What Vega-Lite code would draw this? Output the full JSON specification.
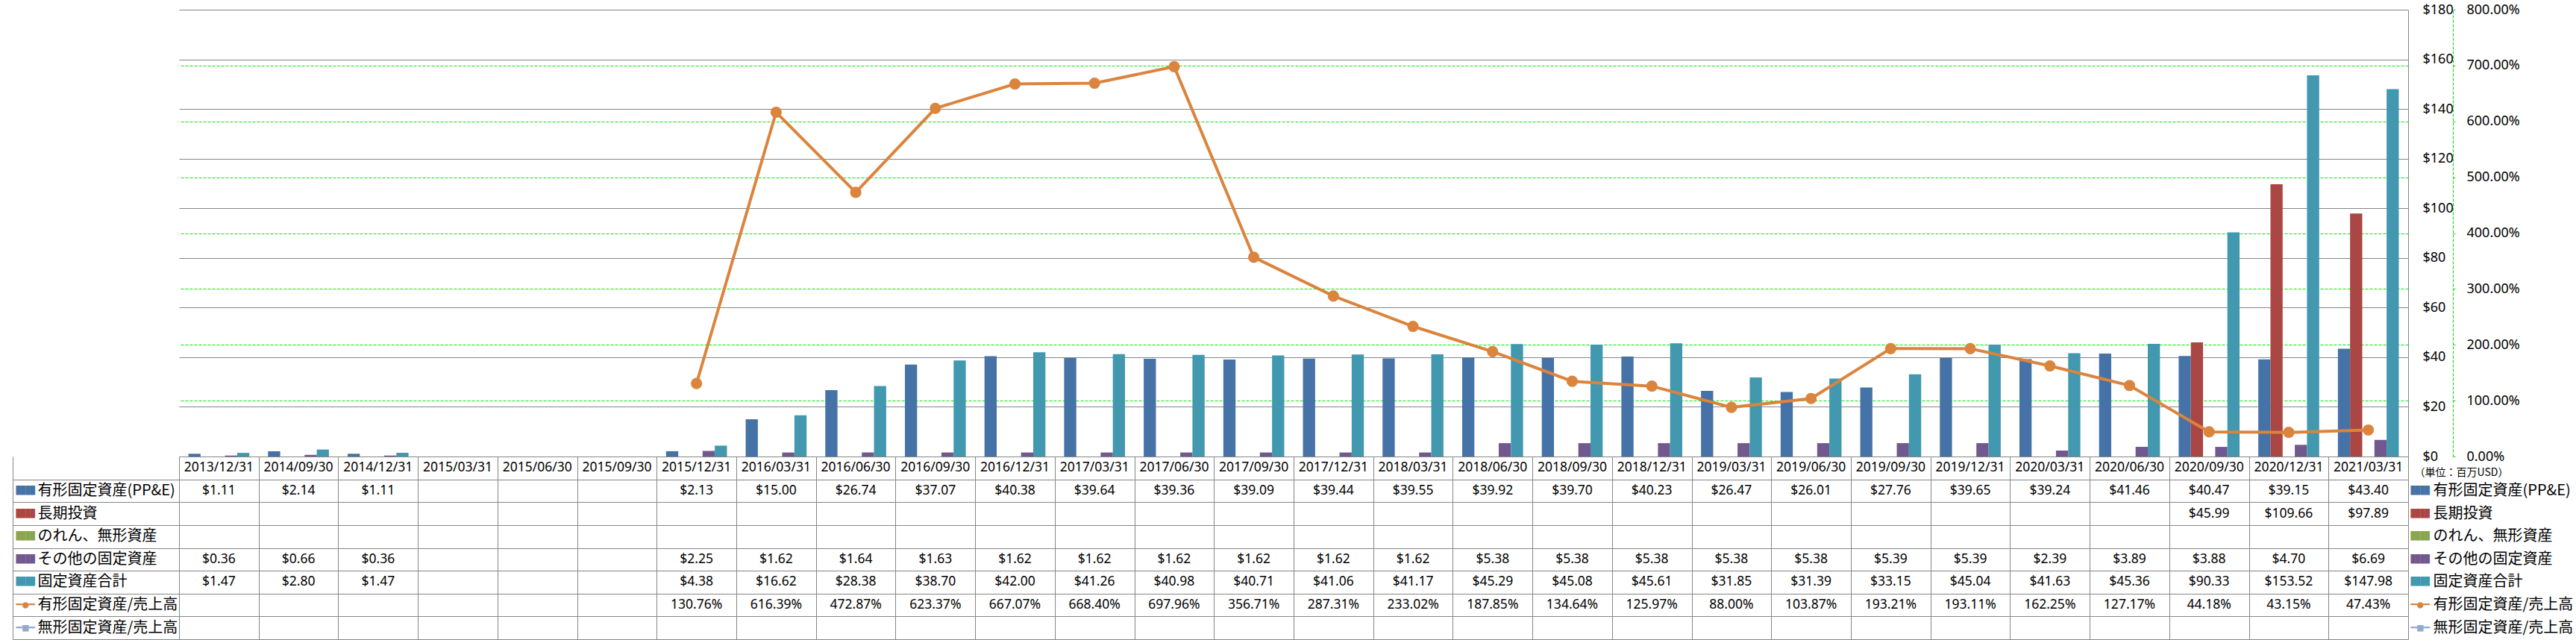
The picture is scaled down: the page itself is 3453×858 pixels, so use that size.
{
  "$schema": "https://vega.github.io/schema/vega-lite/v6.json",
  "background": "white",
  "padding": {"left": 16, "top": 4, "right": 0, "bottom": 0},
  "bounds": "flush",
  "spacing": 0,
  "config": {"font": "Noto Sans"},
  "datasets": {
    "d": [
      {"date": "2013/12/31", "ppe": 1.11, "other": 0.36, "total": 1.47},
      {"date": "2014/09/30", "ppe": 2.14, "other": 0.66, "total": 2.80},
      {"date": "2014/12/31", "ppe": 1.11, "other": 0.36, "total": 1.47},
      {"date": "2015/03/31"},
      {"date": "2015/06/30"},
      {"date": "2015/09/30"},
      {"date": "2015/12/31", "ppe": 2.13, "other": 2.25, "total": 4.38, "ratio": 1.3076},
      {"date": "2016/03/31", "ppe": 15.00, "other": 1.62, "total": 16.62, "ratio": 6.1639},
      {"date": "2016/06/30", "ppe": 26.74, "other": 1.64, "total": 28.38, "ratio": 4.7287},
      {"date": "2016/09/30", "ppe": 37.07, "other": 1.63, "total": 38.70, "ratio": 6.2337},
      {"date": "2016/12/31", "ppe": 40.38, "other": 1.62, "total": 42.00, "ratio": 6.6707},
      {"date": "2017/03/31", "ppe": 39.64, "other": 1.62, "total": 41.26, "ratio": 6.6840},
      {"date": "2017/06/30", "ppe": 39.36, "other": 1.62, "total": 40.98, "ratio": 6.9796},
      {"date": "2017/09/30", "ppe": 39.09, "other": 1.62, "total": 40.71, "ratio": 3.5671},
      {"date": "2017/12/31", "ppe": 39.44, "other": 1.62, "total": 41.06, "ratio": 2.8731},
      {"date": "2018/03/31", "ppe": 39.55, "other": 1.62, "total": 41.17, "ratio": 2.3302},
      {"date": "2018/06/30", "ppe": 39.92, "other": 5.38, "total": 45.29, "ratio": 1.8785},
      {"date": "2018/09/30", "ppe": 39.70, "other": 5.38, "total": 45.08, "ratio": 1.3464},
      {"date": "2018/12/31", "ppe": 40.23, "other": 5.38, "total": 45.61, "ratio": 1.2597},
      {"date": "2019/03/31", "ppe": 26.47, "other": 5.38, "total": 31.85, "ratio": 0.8800},
      {"date": "2019/06/30", "ppe": 26.01, "other": 5.38, "total": 31.39, "ratio": 1.0387},
      {"date": "2019/09/30", "ppe": 27.76, "other": 5.39, "total": 33.15, "ratio": 1.9321},
      {"date": "2019/12/31", "ppe": 39.65, "other": 5.39, "total": 45.04, "ratio": 1.9311},
      {"date": "2020/03/31", "ppe": 39.24, "other": 2.39, "total": 41.63, "ratio": 1.6225},
      {"date": "2020/06/30", "ppe": 41.46, "other": 3.89, "total": 45.36, "ratio": 1.2717},
      {"date": "2020/09/30", "ppe": 40.47, "lti": 45.99, "other": 3.88, "total": 90.33, "ratio": 0.4418},
      {"date": "2020/12/31", "ppe": 39.15, "lti": 109.66, "other": 4.70, "total": 153.52, "ratio": 0.4315},
      {"date": "2021/03/31", "ppe": 43.40, "lti": 97.89, "other": 6.69, "total": 147.98, "ratio": 0.4743}
    ]
  },
  "vconcat": [
    {
      "width": 2988,
      "height": 599,
      "view": {"stroke": null},
      "data": {"name": "d"},
      "layer": [
        {
          "transform": [
            {"fold": ["ppe", "lti", "gw", "other", "total"], "as": ["series", "value"]},
            {"filter": "isValid(datum.value)"}
          ],
          "mark": {"type": "bar"},
          "encoding": {
            "x": {"field": "date", "type": "nominal",
              "scale": {"type": "band", "domain": ["2013/12/31","2014/09/30","2014/12/31","2015/03/31","2015/06/30","2015/09/30","2015/12/31","2016/03/31","2016/06/30","2016/09/30","2016/12/31","2017/03/31","2017/06/30","2017/09/30","2017/12/31","2018/03/31","2018/06/30","2018/09/30","2018/12/31","2019/03/31","2019/06/30","2019/09/30","2019/12/31","2020/03/31","2020/06/30","2020/09/30","2020/12/31","2021/03/31"], "paddingInner": 0.235, "paddingOuter": 0.1175},
              "axis": null},
            "xOffset": {"field": "series", "type": "nominal",
              "scale": {"domain": ["ppe", "lti", "gw", "other", "total"], "paddingInner": 0, "paddingOuter": 0}},
            "y": {"field": "value", "type": "quantitative",
              "scale": {"domain": [0, 180], "nice": false},
              "axis": {"orient": "right", "values": [0, 20, 40, 60, 80, 100, 120, 140, 160, 180], "format": "$,.0f",
                "grid": true, "gridColor": "#868686", "gridWidth": 1,
                "domain": true, "domainColor": "#868686", "domainWidth": 1,
                "ticks": false, "labelPadding": 19, "labelFontSize": 18, "labelFont": "Noto Sans",
                "labelColor": "#000000", "labelOverlap": false, "labelBound": false, "title": null}},
            "color": {"field": "series", "type": "nominal",
              "scale": {"domain": ["ppe", "lti", "gw", "other", "total"], "range": ["#4572A7", "#AA4643", "#89A54E", "#71588F", "#4198AF"]},
              "legend": null}
          }
        },
        {
          "transform": [{"filter": "isValid(datum.ratio)"}],
          "mark": {"type": "line", "color": "#DB843D", "strokeWidth": 4,
            "point": {"filled": true, "size": 230, "color": "#DB843D", "opacity": 1}},
          "encoding": {
            "x": {"field": "date", "type": "nominal", "scale": {"type": "band"}},
            "y": {"field": "ratio", "type": "quantitative",
              "scale": {"domain": [0, 8], "nice": false},
              "axis": {"orient": "right", "offset": 60, "values": [0, 1, 2, 3, 4, 5, 6, 7, 8], "format": ".2%",
                "grid": false, "domain": true, "domainColor": "#00DD00", "domainDash": [4, 2], "domainWidth": 1,
                "ticks": true, "tickSize": 3, "tickColor": "#00DD00", "labelPadding": 15,
                "labelFontSize": 18, "labelFont": "Noto Sans", "labelColor": "#000000",
                "labelOverlap": false, "title": null}}
          }
        },
        {
          "mark": {"type": "point", "opacity": 0},
          "encoding": {
            "x": {"field": "date", "type": "nominal", "scale": {"type": "band"}},
            "y": {"field": "ratio", "type": "quantitative",
              "scale": {"domain": [0, 8], "nice": false},
              "axis": {"orient": "right", "values": [1, 2, 3, 4, 5, 6, 7],
                "grid": true, "gridColor": "#00EE00", "gridDash": [4, 2], "gridWidth": 1,
                "labels": false, "ticks": false, "domain": false, "title": null}}
          }
        }
      ],
      "resolve": {"scale": {"y": "independent"}}
    },
    {
      "width": 2988,
      "height": 245,
      "view": {"stroke": "#868686", "strokeWidth": 1},
      "data": {"name": "d"},
      "layer": [
        {
          "transform": [
            {"fold": ["ppe", "lti", "gw", "other", "total", "ratio", "iratio"], "as": ["key", "value"]},
            {"filter": "isValid(datum.value)"},
            {"calculate": "(datum.key === 'ratio' || datum.key === 'iratio') ? format(datum.value, '.2%') : format(datum.value, '$,.2f')", "as": "txt"}
          ],
          "mark": {"type": "text", "fontSize": 17.5, "font": "Noto Sans", "color": "#000000", "align": "center", "baseline": "middle"},
          "encoding": {
            "x": {"field": "date", "type": "nominal",
              "scale": {"type": "band", "domain": ["2013/12/31","2014/09/30","2014/12/31","2015/03/31","2015/06/30","2015/09/30","2015/12/31","2016/03/31","2016/06/30","2016/09/30","2016/12/31","2017/03/31","2017/06/30","2017/09/30","2017/12/31","2018/03/31","2018/06/30","2018/09/30","2018/12/31","2019/03/31","2019/06/30","2019/09/30","2019/12/31","2020/03/31","2020/06/30","2020/09/30","2020/12/31","2021/03/31"], "paddingInner": 0, "paddingOuter": 0},
              "axis": {"orient": "top", "tickBand": "extent", "grid": true, "gridColor": "#868686", "gridWidth": 1,
                "labels": false, "ticks": false, "domain": false, "title": null}},
            "y": {"field": "key", "type": "nominal",
              "scale": {"type": "band", "domain": ["h", "ppe", "lti", "gw", "other", "total", "ratio", "iratio"], "paddingInner": 0, "paddingOuter": 0},
              "axis": {"orient": "left", "values": ["ppe", "lti", "gw", "other", "total", "ratio", "iratio"],
                "tickBand": "extent", "grid": true, "gridColor": "#868686", "gridWidth": 1,
                "ticks": true, "tickSize": 223, "tickColor": "#868686", "tickWidth": 1,
                "labels": false, "domain": false, "title": null}},
            "text": {"field": "txt"}
          }
        },
        {
          "mark": {"type": "text", "fontSize": 17.5, "font": "Noto Sans", "color": "#000000", "align": "center", "baseline": "middle"},
          "encoding": {
            "x": {"field": "date", "type": "nominal", "scale": {"type": "band"}, "axis": null},
            "y": {"datum": "h", "type": "nominal", "scale": {"type": "band"},
              "axis": {"orient": "left", "offset": 223, "values": ["ppe", "lti", "gw", "other", "total", "ratio", "iratio"],
                "labelExpr": "datum.value==='ppe'?'有形固定資産(PP&E)':datum.value==='lti'?'長期投資':datum.value==='gw'?'のれん、無形資産':datum.value==='other'?'その他の固定資産':datum.value==='total'?'固定資産合計':datum.value==='ratio'?'有形固定資産/売上高':'無形固定資産/売上高'",
                "labelAlign": "left", "labelPadding": -33, "labelFont": "Noto Sans CJK JP", "labelFontSize": 20,
                "labelColor": "#000000", "labelLimit": 0, "labelOverlap": false,
                "ticks": false, "grid": false, "domain": true, "domainColor": "#868686", "domainWidth": 1, "title": null}},
            "text": {"field": "date"}
          }
        },
        {
          "mark": {"type": "point", "opacity": 0},
          "encoding": {
            "x": {"field": "date", "type": "nominal", "scale": {"type": "band"}, "axis": null},
            "y": {"datum": "h", "type": "nominal", "scale": {"type": "band"},
              "axis": {"orient": "left", "offset": 223, "values": ["ppe", "lti", "gw", "other", "total", "ratio", "iratio"],
                "labelExpr": "datum.value==='ratio'?'━●━':datum.value==='iratio'?'━■━':'████'",
                "labelAlign": "left", "labelPadding": -4, "labelFont": "DejaVu Sans Mono",
                "labelFontSize": {"condition": {"test": "datum.value==='ratio'||datum.value==='iratio'", "value": 14}, "value": 10.5},
                "labelColor": {"condition": [
                  {"test": "datum.value==='ppe'", "value": "#4572A7"},
                  {"test": "datum.value==='lti'", "value": "#AA4643"},
                  {"test": "datum.value==='gw'", "value": "#89A54E"},
                  {"test": "datum.value==='other'", "value": "#71588F"},
                  {"test": "datum.value==='total'", "value": "#4198AF"},
                  {"test": "datum.value==='ratio'", "value": "#DB843D"}
                ], "value": "#93A9CF"},
                "labelLimit": 0, "labelOverlap": false,
                "ticks": false, "grid": false, "domain": false, "title": null}}
          }
        },
        {
          "mark": {"type": "point", "opacity": 0},
          "encoding": {
            "x": {"field": "date", "type": "nominal", "scale": {"type": "band"}, "axis": null},
            "y": {"datum": "h", "type": "nominal", "scale": {"type": "band"},
              "axis": {"orient": "right", "values": ["ppe", "lti", "gw", "other", "total", "ratio", "iratio"],
                "labelExpr": "datum.value==='ratio'?'━●━':datum.value==='iratio'?'━■━':'████'",
                "labelAlign": "left", "labelPadding": 3, "labelFont": "DejaVu Sans Mono",
                "labelFontSize": {"condition": {"test": "datum.value==='ratio'||datum.value==='iratio'", "value": 14}, "value": 10.5},
                "labelColor": {"condition": [
                  {"test": "datum.value==='ppe'", "value": "#4572A7"},
                  {"test": "datum.value==='lti'", "value": "#AA4643"},
                  {"test": "datum.value==='gw'", "value": "#89A54E"},
                  {"test": "datum.value==='other'", "value": "#71588F"},
                  {"test": "datum.value==='total'", "value": "#4198AF"},
                  {"test": "datum.value==='ratio'", "value": "#DB843D"}
                ], "value": "#93A9CF"},
                "labelLimit": 0, "labelOverlap": false,
                "ticks": false, "grid": false, "domain": false, "title": null}}
          }
        },
        {
          "mark": {"type": "point", "opacity": 0},
          "encoding": {
            "x": {"field": "date", "type": "nominal", "scale": {"type": "band"}, "axis": null},
            "y": {"datum": "h", "type": "nominal", "scale": {"type": "band"},
              "axis": {"orient": "right", "values": ["h", "ppe", "lti", "gw", "other", "total", "ratio", "iratio"],
                "labelExpr": "datum.value==='ppe'?'有形固定資産(PP&E)':datum.value==='lti'?'長期投資':datum.value==='gw'?'のれん、無形資産':datum.value==='other'?'その他の固定資産':datum.value==='total'?'固定資産合計':datum.value==='ratio'?'有形固定資産/売上高':datum.value==='iratio'?'無形固定資産/売上高':'（単位：百万USD）'",
                "labelAlign": "left",
                "labelPadding": {"condition": {"test": "datum.value==='h'", "value": 8}, "value": 33},
                "labelOffset": {"condition": {"test": "datum.value==='h'", "value": 7}, "value": 0},
                "labelFont": "Noto Sans CJK JP",
                "labelFontSize": {"condition": {"test": "datum.value==='h'", "value": 14}, "value": 20},
                "labelColor": "#000000", "labelLimit": 0, "labelOverlap": false,
                "ticks": false, "grid": false, "domain": false, "title": null}}
          }
        }
      ],
      "resolve": {"axis": {"x": "independent", "y": "independent"}}
    }
  ]
}
